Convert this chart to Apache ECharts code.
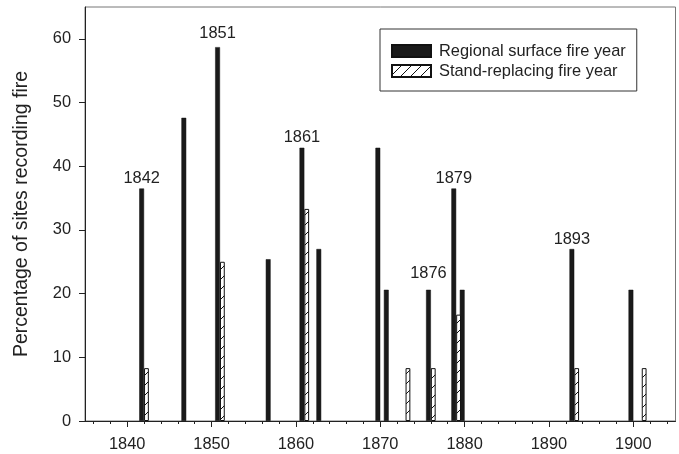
<!DOCTYPE html>
<html>
<head>
<meta charset="utf-8">
<script src="https://cdn.jsdelivr.net/npm/echarts@6/dist/echarts.min.js"></script>
<style>
html,body{margin:0;padding:0;background:#fff;}
#chart{width:679px;height:454px;}
</style>
</head>
<body>
<div id="chart"></div>
<script>
// ---- data ----
const regionalYears  = [1842, 1847, 1851, 1857, 1861, 1863, 1870, 1871, 1876, 1879, 1880, 1893, 1900];
const regionalValues = [36.5, 47.6, 58.7, 25.4, 42.9, 27.0, 42.9, 20.6, 20.6, 36.5, 20.6, 27.0, 20.6];
const standYears     = [1842, 1851, 1861, 1873, 1876, 1879, 1893, 1901];
const standValues    = [8.3, 25.0, 33.3, 8.3, 8.3, 16.7, 8.3, 8.3];
const labeledYears   = [1842, 1851, 1861, 1876, 1879, 1893];
const xMajorTicks    = [1840, 1850, 1860, 1870, 1880, 1890, 1900];
const xMinorTicks    = [1836, 1838, 1842, 1844, 1846, 1848, 1852, 1854, 1856, 1858, 1862, 1864, 1866, 1868,
                        1872, 1874, 1876, 1878, 1882, 1884, 1886, 1888, 1892, 1894, 1896, 1898, 1902, 1904];
const yTicks         = [0, 10, 20, 30, 40, 50, 60];
const seriesNames    = ['Regional surface fire year', 'Stand-replacing fire year'];
const yTitle         = 'Percentage of sites recording fire';

// hatch pattern
const pc = document.createElement('canvas');
pc.width = 10; pc.height = 10;
const g = pc.getContext('2d');
g.fillStyle = '#fff'; g.fillRect(0, 0, 10, 10);
g.strokeStyle = '#111'; g.lineWidth = 1;
g.beginPath();
g.moveTo(0, 10); g.lineTo(10, 0);
g.moveTo(-1, 1); g.lineTo(1, -1);
g.moveTo(9, 11); g.lineTo(11, 9);
g.stroke();

const labelDistance = {1851: 5.5, 1876: 8};
const regionalData = regionalYears.map((y, i) => {
  const item = { value: [y, regionalValues[i]] };
  if (labeledYears.indexOf(y) >= 0) {
    item.label = { show: true, distance: labelDistance[y] || 2 };
  }
  return item;
});
const standData = standYears.map((y, i) => [y, standValues[i]]);

const txt = '#222';
const font = 'Liberation Sans, Arial, sans-serif';

const chart = echarts.init(document.getElementById('chart'), null, { renderer: 'canvas' });
chart.setOption({
  animation: false,
  textStyle: { fontFamily: font, color: txt },
  grid: { left: 85, top: 7, right: 3.5, bottom: 33, show: true, borderColor: '#777', borderWidth: 1 },
  legend: {
    left: 380, top: 29,
    orient: 'vertical',
    itemWidth: 39, itemHeight: 12, itemGap: 4,
    padding: [14, 11, 12, 11],
    borderColor: '#333', borderWidth: 1, backgroundColor: '#fff',
    icon: 'rect',
    textStyle: { fontSize: 16.4, color: txt, fontFamily: font, padding: [0, 0, 0, 3] },
    data: seriesNames
  },
  xAxis: [{
    type: 'value', min: 1835, max: 1905, position: 'bottom',
    splitLine: { show: false },
    axisLine: { show: true, onZero: false, lineStyle: { color: '#222', width: 1 } },
    axisTick: { show: true, length: 6, customValues: xMajorTicks, lineStyle: { color: '#222' } },
    axisLabel: { customValues: xMajorTicks, margin: 15, fontSize: 16.4, color: txt, fontFamily: font,
                 formatter: v => String(v) }
  }, {
    type: 'value', min: 1835, max: 1905, position: 'bottom', offset: 0,
    splitLine: { show: false },
    axisLine: { show: false },
    axisTick: { show: true, length: 3, customValues: xMinorTicks, lineStyle: { color: '#222' } },
    axisLabel: { show: false }
  }],
  yAxis: {
    type: 'value', min: 0, max: 65,
    splitLine: { show: false },
    axisLine: { show: true, lineStyle: { color: '#222', width: 1 } },
    axisTick: { show: true, length: 6, customValues: yTicks, lineStyle: { color: '#222' } },
    axisLabel: { customValues: yTicks, margin: 14, fontSize: 16.4, color: txt, fontFamily: font },
    name: yTitle, nameLocation: 'middle', nameGap: 53, nameRotate: 90,
    nameTextStyle: { fontSize: 19.5, color: txt, fontFamily: font }
  },
  series: [{
    name: seriesNames[0], type: 'bar', xAxisIndex: 0,
    barWidth: 4.8, barGap: '0%',
    itemStyle: { color: '#1a1a1a', borderColor: '#111', borderWidth: 0.5 },
    label: { show: false, position: 'top', fontSize: 16.4, color: txt, fontFamily: font,
             formatter: p => String(p.value[0]) },
    data: regionalData
  }, {
    name: seriesNames[1], type: 'bar', xAxisIndex: 0,
    barWidth: 4.8, barGap: '0%',
    itemStyle: { color: { image: pc, repeat: 'repeat' }, borderColor: '#111', borderWidth: 1 },
    data: standData
  }]
});
</script>
</body>
</html>
